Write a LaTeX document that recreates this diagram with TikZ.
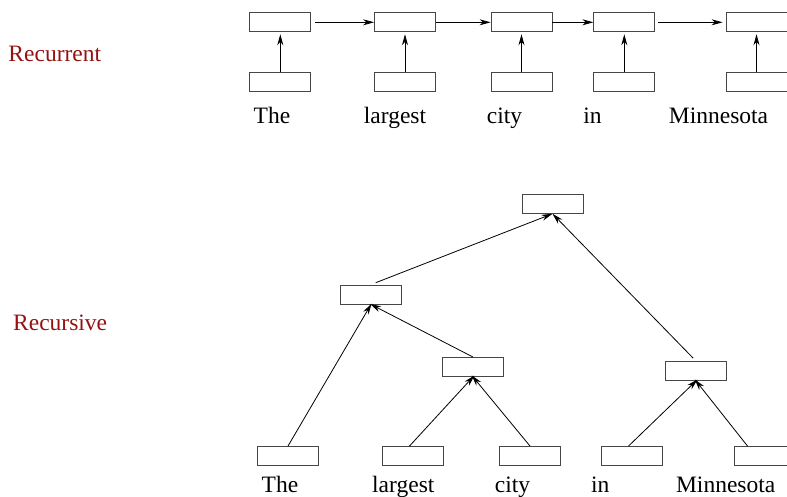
\documentclass[tikz,border=0pt]{standalone}
\usepackage{fontspec}
\setmainfont{Liberation Serif}
\usetikzlibrary{arrows.meta}
\definecolor{labelred}{RGB}{150,18,18}
\definecolor{boxline}{RGB}{70,70,70}
\begin{document}
\begin{tikzpicture}[x=1pt,y=-1pt,
  cell/.style={draw=boxline,line width=0.9pt,minimum width=61pt,minimum height=19pt,inner sep=0pt},
  word/.style={anchor=base,inner sep=0pt,font=\fontsize{23.5}{28}\selectfont},
  kind/.style={anchor=base west,inner sep=0pt,text=labelred,font=\fontsize{23.5}{28}\selectfont},
  link/.style={line width=0.8pt,-{Stealth[length=11pt,width=6pt,inset=3.5pt]}}]
\clip (0,0) rectangle (787,496);
\useasboundingbox (0,0) rectangle (787,496);

% side labels
\node[kind] (lrec) at (8.3,61.7) {Recurrent};
\node[kind] (lrcs) at (13,330.7) {Recursive};

% recurrent chain: hidden states on top, inputs below
\foreach \i/\x in {1/280.3,2/405,3/521.5,4/624.3,5/756.5}{
  \node[cell] (h\i) at (\x,22.3) {};
  \node[cell] (x\i) at (\x,82.3) {};
  \draw[link,shorten >=2pt] (x\i) -- (h\i);
}
\draw[link,shorten <=4pt] (h1) -- (h2);
\draw[link] (h2) -- (h3);
\draw[link] (h3) -- (h4);
\draw[link,shorten <=3pt,shorten >=3pt] (h4) -- (h5);

\node[word] (w1) at (272,123) {The};
\node[word] (w2) at (395,123) {largest};
\node[word] (w3) at (504.5,123) {city};
\node[word] (w4) at (592.5,123) {in};
\node[word] (w5) at (718.5,123) {Minnesota};

% recursive tree
\node[cell] (t)  at (552.5,203.8) {};
\node[cell] (n1) at (371,294.5) {};
\node[cell] (n2) at (473,367) {};
\node[cell] (n3) at (696,371) {};
\node[cell] (l1) at (288,456) {};
\node[cell] (l2) at (412.5,456) {};
\node[cell] (l3) at (530,456) {};
\node[cell] (l4) at (631.5,456) {};
\node[cell] (l5) at (764.5,456) {};

\draw[link,shorten >=-1pt] (l1.north) -- (n1.south);
\draw[link,shorten >=-1pt] (n2.north) -- (n1.south);
\draw[link,shorten >=-2pt] ([xshift=-3pt]l2.north) -- (n2.south);
\draw[link,shorten >=-2pt] (l3.north) -- (n2.south);
\draw[link,shorten >=-2pt] ([xshift=-3pt]l4.north) -- (n3.south);
\draw[link,shorten >=-2pt] ([xshift=-17pt]l5.north) -- (n3.south);
\draw[link,shorten <=5pt] (n1.north) -- (t.south);
\draw[link,shorten <=4pt] (n3.north) -- (t.south);

\node[word] (v1) at (280,492) {The};
\node[word] (v2) at (403.3,492) {largest};
\node[word] (v3) at (512.5,492) {city};
\node[word] (v4) at (600.2,492) {in};
\node[word] (v5) at (725.7,492) {Minnesota};
\end{tikzpicture}
\end{document}
